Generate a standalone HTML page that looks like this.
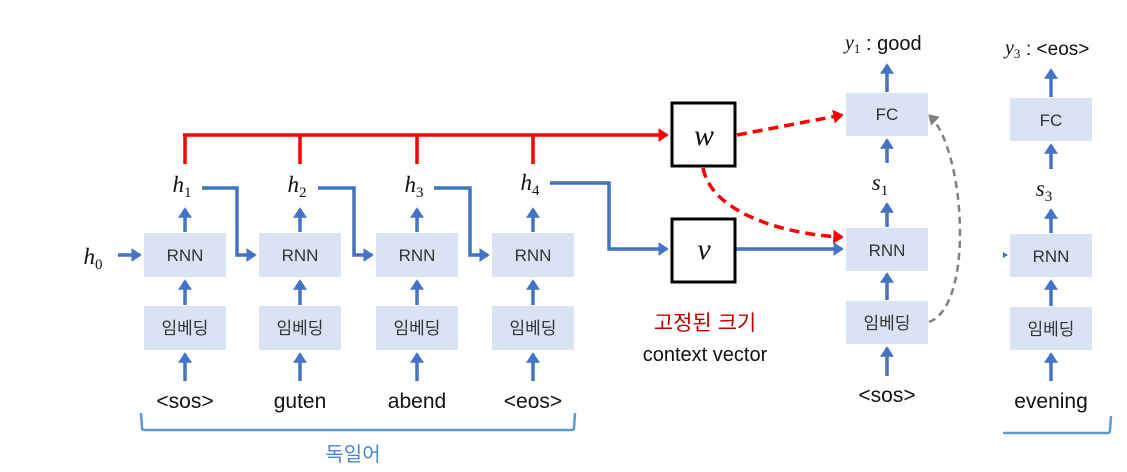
<!DOCTYPE html>
<html><head><meta charset="utf-8"><style>
html,body{margin:0;padding:0;background:#fff;}
svg{display:block;}
.k{font-family:"Liberation Sans","Noto Sans CJK KR",sans-serif;fill:#333;font-size:17px;text-anchor:middle;}
.w{font-family:"Liberation Sans","Noto Sans CJK KR",sans-serif;fill:#111;font-size:21px;text-anchor:middle;}
.m{font-family:"Liberation Serif",serif;font-style:italic;fill:#111;font-size:23px;text-anchor:middle;}
.sub{font-size:15px;font-style:normal;}
</style></head><body>
<svg width="1127" height="472" viewBox="0 0 1127 472" xmlns="http://www.w3.org/2000/svg">
<defs>
<marker id="ab" markerWidth="4" markerHeight="4" refX="2.5" refY="2" orient="auto" markerUnits="strokeWidth"><path d="M0,0 L3,2 L0,4 z" fill="#4472c4"/></marker>
<marker id="ar" markerWidth="4" markerHeight="4" refX="2.5" refY="2" orient="auto" markerUnits="strokeWidth"><path d="M0,0 L3,2 L0,4 z" fill="#ff0000"/></marker>
<marker id="ag" markerWidth="5" markerHeight="5" refX="3" refY="2.5" orient="auto" markerUnits="strokeWidth"><path d="M0,0 L4,2.5 L0,5 z" fill="#808080"/></marker>
</defs>
<g fill="#dae3f3">
<rect x="144" y="233" width="82" height="44"/><rect x="259" y="233" width="82" height="44"/><rect x="376" y="233" width="82" height="44"/><rect x="492" y="233" width="82" height="44"/>
<rect x="144" y="306" width="82" height="44"/><rect x="259" y="306" width="82" height="44"/><rect x="376" y="306" width="82" height="44"/><rect x="492" y="306" width="82" height="44"/>
<rect x="846" y="93" width="82" height="43"/><rect x="846" y="228" width="82" height="43"/><rect x="846" y="301" width="82" height="43"/>
<rect x="1010" y="98" width="82" height="43"/><rect x="1010" y="234" width="82" height="43"/><rect x="1010" y="307" width="82" height="43"/>
</g>
<g class="k">
<text x="185" y="261">RNN</text><text x="300" y="261">RNN</text><text x="417" y="261">RNN</text><text x="533" y="261">RNN</text>
<text x="185" y="334">임베딩</text><text x="300" y="334">임베딩</text><text x="417" y="334">임베딩</text><text x="533" y="334">임베딩</text>
<text x="887" y="120">FC</text><text x="887" y="256">RNN</text><text x="887" y="329">임베딩</text>
<text x="1051" y="126">FC</text><text x="1051" y="262">RNN</text><text x="1051" y="335">임베딩</text>
</g>
<g stroke="#4472c4" stroke-width="3.5" fill="none" marker-end="url(#ab)">
<line x1="185" y1="381" x2="185" y2="354"/><line x1="300" y1="381" x2="300" y2="354"/><line x1="417" y1="381" x2="417" y2="354"/><line x1="533" y1="381" x2="533" y2="354"/>
<line x1="185" y1="305" x2="185" y2="281"/><line x1="300" y1="305" x2="300" y2="281"/><line x1="417" y1="305" x2="417" y2="281"/><line x1="533" y1="305" x2="533" y2="281"/>
<line x1="185" y1="232" x2="185" y2="209"/><line x1="300" y1="232" x2="300" y2="209"/><line x1="417" y1="232" x2="417" y2="209"/><line x1="533" y1="232" x2="533" y2="209"/>
<line x1="118" y1="255" x2="140" y2="255"/>
<polyline points="202,188 237,188 237,255 255,255"/>
<polyline points="318,188 354,188 354,255 372,255"/>
<polyline points="434,188 470,188 470,255 488,255"/>
<polyline points="550,183 609,183 609,249 667,249"/>
<line x1="736" y1="249" x2="842" y2="249"/>
<line x1="887" y1="376" x2="887" y2="348"/><line x1="887" y1="300" x2="887" y2="274"/><line x1="887" y1="227" x2="887" y2="204"/><line x1="887" y1="163" x2="887" y2="140"/><line x1="887" y1="92" x2="887" y2="65"/>
<line x1="1051" y1="381" x2="1051" y2="354"/><line x1="1051" y1="306" x2="1051" y2="281"/><line x1="1051" y1="233" x2="1051" y2="210"/><line x1="1051" y1="169" x2="1051" y2="145"/><line x1="1051" y1="97" x2="1051" y2="70"/>
</g>
<path d="M1003,252 L1008,255 L1003,258z" fill="#4472c4"/>
<g stroke="#ff0000" stroke-width="3.5" fill="none">
<line x1="185" y1="164" x2="185" y2="135"/><line x1="300" y1="164" x2="300" y2="135"/><line x1="417" y1="164" x2="417" y2="135"/><line x1="533" y1="164" x2="533" y2="135"/>
<line x1="183" y1="135" x2="667" y2="135" marker-end="url(#ar)"/>
<path d="M737,135 L842,115" stroke-dasharray="10,6" marker-end="url(#ar)"/>
<path d="M703,168 C712,215 790,235 842,237" stroke-dasharray="10,6" marker-end="url(#ar)"/>
</g>
<path d="M929,322 C975,305 965,150 930,116" stroke="#808080" stroke-width="2.5" fill="none" stroke-dasharray="7,5" marker-end="url(#ag)"/>
<rect x="672" y="103" width="63" height="63" fill="#fff" stroke="#000" stroke-width="3"/>
<rect x="672" y="219" width="63" height="63" fill="#fff" stroke="#000" stroke-width="3"/>
<text class="m" x="704" y="145" style="font-size:30px">w</text>
<text class="m" x="704" y="259" style="font-size:30px">v</text>
<g class="m">
<text x="93" y="264">h<tspan class="sub" dy="5">0</tspan></text>
<text x="182" y="192">h<tspan class="sub" dy="5">1</tspan></text>
<text x="297" y="192">h<tspan class="sub" dy="5">2</tspan></text>
<text x="414" y="192">h<tspan class="sub" dy="5">3</tspan></text>
<text x="530" y="190">h<tspan class="sub" dy="5">4</tspan></text>
<text x="880" y="190">s<tspan class="sub" dy="5">1</tspan></text>
<text x="1044" y="196">s<tspan class="sub" dy="5">3</tspan></text>
</g>
<text x="845" y="49" style="font-family:'Liberation Serif',serif;font-style:italic;font-size:20px;fill:#111">y<tspan style="font-size:13px;font-style:normal" dy="4">1</tspan></text>
<text x="866" y="50" style="font-family:'Liberation Sans',sans-serif;font-size:20px;fill:#111">: good</text>
<text x="1005" y="54" style="font-family:'Liberation Serif',serif;font-style:italic;font-size:20px;fill:#111">y<tspan style="font-size:13px;font-style:normal" dy="4">3</tspan></text>
<text x="1026" y="55" style="font-family:'Liberation Sans',sans-serif;font-size:19px;fill:#111">: &lt;eos&gt;</text>
<g class="w">
<text x="185" y="408">&lt;sos&gt;</text><text x="300" y="408">guten</text><text x="417" y="408">abend</text><text x="533" y="408">&lt;eos&gt;</text>
<text x="887" y="402">&lt;sos&gt;</text><text x="1051" y="408">evening</text>
<text x="705" y="361" style="font-size:20px">context vector</text>
</g>
<text x="705" y="330" style="font-family:'Liberation Sans','Noto Sans CJK KR',sans-serif;font-size:21px;fill:#c00000;text-anchor:middle">고정된 크기</text>
<text x="353" y="461" style="font-family:'Liberation Sans','Noto Sans CJK KR',sans-serif;font-size:20px;fill:#4a86c8;text-anchor:middle">독일어</text>
<path d="M141,413 L142,428 Q142,430 145,430 L572,430 Q574,430 574,428 L575,413" stroke="#5b9bd5" stroke-width="2.5" fill="none"/>
<path d="M1003,433 L1108,433 Q1110,433 1110,430 L1111,416" stroke="#5b9bd5" stroke-width="2.5" fill="none"/>
</svg>
</body></html>
